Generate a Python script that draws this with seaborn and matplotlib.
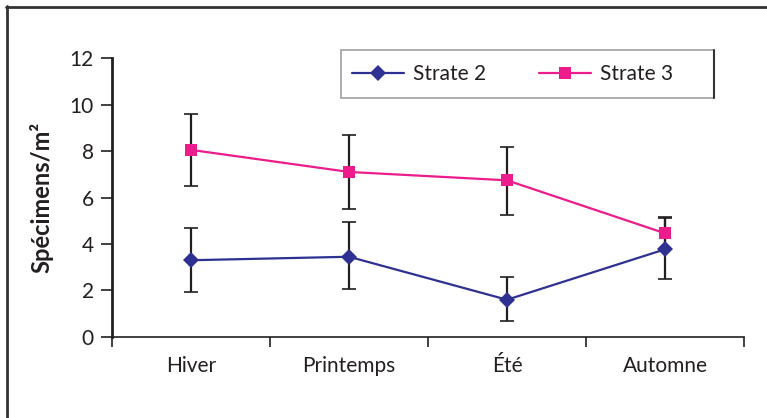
import numpy as np
import pandas as pd
import matplotlib
matplotlib.use('Agg')
import matplotlib.pyplot as plt
import seaborn as sns
from matplotlib.lines import Line2D
from matplotlib.patches import Rectangle

# data
saisons = ['Hiver', 'Printemps', 'Été', 'Automne']
strate2 = [3.3, 3.45, 1.6, 3.77]
strate2_low = [1.95, 2.05, 0.7, 2.48]
strate2_high = [4.7, 4.95, 2.57, 5.1]
strate3 = [8.05, 7.1, 6.74, 4.46]
strate3_low = [6.5, 5.5, 5.25, 3.8]
strate3_high = [9.6, 8.7, 8.17, 5.15]
y_ticks = [0, 2, 4, 6, 8, 10, 12]

navy = '#2E3192'
pink = '#EC1C8C'
txt = '#231F20'

sns.set_style('white')
plt.rcParams['font.family'] = ['Lato', 'DejaVu Sans']

df = pd.DataFrame({
    'saison': saisons * 2,
    'x': list(range(len(saisons))) * 2,
    'val': strate2 + strate3,
    'strate': ['Strate 2'] * 4 + ['Strate 3'] * 4,
})

fig = plt.figure(figsize=(7.67, 4.18), dpi=100)
ax = fig.add_axes([0.146, 0.194, 0.824, 0.667])

# error bars (black, under the lines)
for vals, lo, hi in [(strate2, strate2_low, strate2_high), (strate3, strate3_low, strate3_high)]:
    v = np.array(vals)
    yerr = [v - np.array(lo), np.array(hi) - v]
    ax.errorbar(range(len(saisons)), v, yerr=yerr, fmt='none', ecolor='#231F20',
                elinewidth=1.6, capsize=5, capthick=1.2, zorder=2)

sns.lineplot(data=df, x='x', y='val', hue='strate', style='strate',
             palette={'Strate 2': navy, 'Strate 3': pink},
             markers={'Strate 2': 'D', 'Strate 3': 's'}, dashes=False,
             markersize=8, markeredgewidth=0, linewidth=1.6, sort=False,
             legend=False, ax=ax, zorder=3)

ax.set_xlim(-0.5, 3.5)
ax.set_ylim(0, 12)
ax.set_yticks(y_ticks)
ax.set_yticklabels([str(t) for t in y_ticks], fontsize=15, color=txt)
ax.set_xticks(np.arange(-0.5, 4, 1))
ax.set_xticklabels([])
ax.set_xticks(range(len(saisons)), minor=True)
ax.set_xticklabels(saisons, minor=True, fontsize=15, color=txt)
ax.tick_params(axis='x', which='major', bottom=True, direction='out', length=7, width=1.2,
               color='#231F20')
ax.tick_params(axis='x', which='minor', bottom=False, length=0, pad=14)
ax.tick_params(axis='y', left=True, direction='out', length=8, width=1.2,
               color='#231F20', pad=5)
ax.set_xlabel('')
ax.set_ylabel('Spécimens/m²', fontsize=17, fontweight='bold', color=txt, labelpad=12)

sns.despine(ax=ax)
ax.spines['left'].set_color('#231F20')
ax.spines['left'].set_linewidth(2)
ax.spines['bottom'].set_color('#231F20')
ax.spines['bottom'].set_linewidth(1.2)

# legend box
fig.add_artist(Rectangle((341 / 767, 1 - 98 / 418), 373 / 767, 48 / 418,
                         transform=fig.transFigure, facecolor='white',
                         edgecolor='#A0A0A0', linewidth=1.2, zorder=4))
fig.add_artist(Line2D([714 / 767] * 2, [1 - 98 / 418, 1 - 50 / 418], color='#333333',
                      linewidth=1.5, transform=fig.transFigure, zorder=5))
handles = [Line2D([], [], color=navy, marker='D', markersize=8, linewidth=1.6, markeredgewidth=0),
           Line2D([], [], color=pink, marker='s', markersize=8, linewidth=1.6, markeredgewidth=0)]
leg = fig.legend(handles, ['Strate 2', 'Strate 3'], ncol=2, loc='center left',
                 bbox_to_anchor=(352 / 767, 1 - 74 / 418), frameon=False,
                 fontsize=15, handlelength=2.5, columnspacing=2.5, borderpad=0,
                 borderaxespad=0, handletextpad=0.45)
leg.set_zorder(6)
for t in leg.get_texts():
    t.set_color(txt)

# outer frame (top and left edges)
fig.add_artist(Line2D([6 / 767, 1], [1 - 6.5 / 418] * 2, color='#333333', linewidth=2,
                      transform=fig.transFigure))
fig.add_artist(Line2D([6.5 / 767] * 2, [0, 1 - 6 / 418], color='#333333', linewidth=2,
                      transform=fig.transFigure))

fig.savefig('out.png', dpi=100)
